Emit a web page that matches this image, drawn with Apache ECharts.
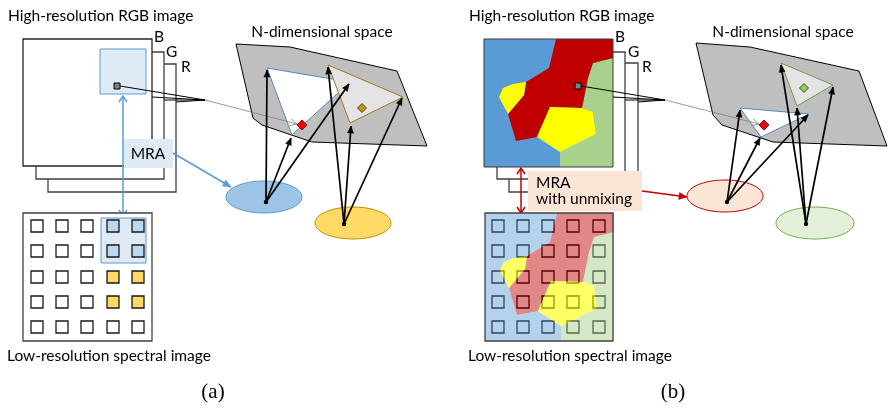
<!DOCTYPE html>
<html>
<head>
<meta charset="utf-8">
<script src="https://cdn.jsdelivr.net/npm/echarts@6/dist/echarts.min.js"></script>
<style>
  html, body { margin: 0; padding: 0; background: #ffffff; }
  #chart { width: 888px; height: 408px; }
</style>
</head>
<body>
<div id="chart"></div>
<script>
// Diagram space: x 0..888, y 0..408 (y grows downward). Every shape below is
// a list of points in that space, mapped to pixels by the hidden value axes.

// ---------- panel (a): MRA ----------
const layerR_A = [[48, 64], [176, 192]];
const layerG_A = [[36, 52], [164, 179]];
const layerB_A = [[23, 39], [152, 166]];
const windowA = [[100, 49], [146, 94]];
const pixelA = [[114, 83], [120, 89]];
const hubA = [205, 100];
const hubSourcesA = [[120, 86], [152, 97], [164, 100], [176, 102]];
const planeA = [[236, 44], [290, 47], [397, 71], [427, 146], [312, 142], [262, 125], [253, 118]];
const triBlueA = [[267, 68], [350, 82], [292, 135]];
const triGoldA = [[328, 65], [403, 97], [350, 123]];
const mixPointA = [302, 125];
const goldPointA = [362, 108];
const ellipseBlueA = [[226, 181], [302, 213]];
const ellipseGoldA = [[315, 207], [391, 239]];
const originBlueA = [266, 202];
const originGoldA = [344, 224];
const targetsBlueA = [[267, 70], [291, 138], [349, 84]];
const targetsGoldA = [[328, 67], [351, 126], [402, 98]];
const mraBoxA = [[124, 139], [173, 168]];
const mraArrowA = [[173, 153], [231, 187]];
const linkArrowA = [[123, 96], [123, 216]];
const lowBoxA = [[23, 213], [152, 341]];
const lowWindowA = [[101, 218], [146, 263]];
const cellXA = [37, 62, 87, 113, 138];
const cellYA = [226, 251, 277, 302, 327];
// b = blue window cells, y = yellow endmember cells, '' = empty
const cellFillA = [
  ['', '', '', 'b', 'b'],
  ['', '', '', 'b', 'b'],
  ['', '', '', 'y', 'y'],
  ['', '', '', 'y', 'y'],
  ['', '', '', '', '']
];

// ---------- panel (b): MRA with unmixing ----------
const layerR_B = [[509, 63], [638, 192]];
const layerG_B = [[497, 52], [625, 179]];
const layerB_B = [[484, 39], [613, 167]];
// land-cover regions of the scene (they tile the image without overlap)
const mapBlue = [[484, 39], [556, 39], [549, 68], [526, 82], [513, 84], [503, 88], [499, 97], [508, 114], [516, 141], [537, 137], [560, 152], [560, 167], [484, 167]];
const mapRed = [[556, 39], [613, 39], [613, 58], [593, 63], [588, 78], [582, 108], [550, 107], [537, 137], [516, 141], [508, 114], [524, 95], [526, 82], [549, 68]];
const mapGreen = [[613, 58], [593, 63], [588, 78], [582, 108], [593, 112], [596, 134], [560, 152], [560, 167], [613, 167]];
const mapYellowBig = [[550, 107], [582, 108], [593, 112], [596, 134], [560, 152], [537, 137]];
const mapYellowSmall = [[499, 97], [503, 88], [513, 84], [526, 82], [524, 95], [508, 114]];
const lowMapShift = [1, 174];
const pixelB = [[575, 83], [581, 89]];
const hubB = [665, 100];
const hubSourcesB = [[581, 86], [613, 97], [625, 100], [638, 102]];
const planeB = [[696, 43], [750, 47], [859, 71], [887, 146], [773, 142], [722, 125], [713, 115]];
const triBlueB = [[740, 108], [809, 114], [761, 137]];
const triGreenB = [[781, 63], [833, 85], [797, 106]];
const mixPointB = [764, 125];
const greenPointB = [804, 88];
const ellipseRedB = [[687, 180], [763, 212]];
const ellipseGreenB = [[776, 207], [854, 239]];
const originRedB = [727, 202];
const originGreenB = [806, 224];
const targetsRedB = [[740, 110], [760, 138], [808, 115]];
const targetsGreenB = [[781, 65], [797, 108], [833, 87]];
const mraBoxB = [[528, 171], [642, 211]];
const mraArrowB = [[642, 191], [687, 197]];
const linkArrowB = [[521, 168], [521, 213]];
const lowBoxB = [[485, 213], [613, 341]];
const cellXB = [498, 523, 548, 573, 599];
const cellYB = [226, 251, 277, 302, 327];
const cellSize = 12;

// ---------- texts ----------
const titleHigh = 'High-resolution RGB image';
const titleLow = 'Low-resolution spectral image';
const titleSpace = 'N-dimensional space';
const bandNames = ['B', 'G', 'R'];
const bandPosA = [[154, 37], [166, 52], [181, 67]];
const bandPosB = [[615, 37], [628, 52], [642, 67]];
const textsA = [
  { t: titleHigh, p: [8, 16], a: 'left' },
  { t: titleSpace, p: [322, 32], a: 'center' },
  { t: 'MRA', p: [148, 154], a: 'center' },
  { t: titleLow, p: [7, 356], a: 'left' }
];
const textsB = [
  { t: titleHigh, p: [469, 16], a: 'left' },
  { t: titleSpace, p: [783, 32], a: 'center' },
  { t: 'MRA', p: [536, 183], a: 'left' },
  { t: 'with unmixing', p: [536, 199], a: 'left' },
  { t: titleLow, p: [468, 356], a: 'left' }
];
const captions = [{ t: '(a)', p: [213, 392] }, { t: '(b)', p: [673, 392] }];

// ---------- styles ----------
const C = {
  edge: '#404040', plane: '#bfbfbf', ink: '#000000',
  blue: '#5b9bd5', blueLight: '#deebf7', blueCell: '#bdd7ee', blueEll: '#9dc3e6',
  gold: '#bf9000', goldFill: '#ffd966', goldTri: '#9c7a1e', goldDot: '#c89400',
  red: '#c00000', redLight: '#fbe5d6', green: '#70ad47', greenTri: '#6b9a4a',
  greenLight: '#e2f0d9', greenMap: '#a9d18e', yellow: '#ffff00', triFill: '#e4e4e4',
  thin: '#808080', triBlue: '#5a86bb'
};
const SANS = 'Lato, "Open Sans", sans-serif';
const FONT = '15.5px ' + SANS;

// ---------- mark list ----------
const marks = [];
function add(kind, pts, style, extra) { marks.push(Object.assign({ kind: kind, pts: pts, style: style || {} }, extra || {})); }
const shift = (pts, d) => pts.map(p => [p[0] + d[0], p[1] + d[1]]);

function layers(R, G, B, front) {
  add('rect', R, { fill: '#fff', stroke: C.edge, lw: 1.3 });
  add('rect', G, { fill: '#fff', stroke: C.edge, lw: 1.3 });
  add('rect', B, front);
}
function hubLines(src, hub) { src.forEach(s => add('line', [s, hub], { stroke: C.ink, lw: 1 })); }
function fan(origin, targets) {
  targets.forEach(t => add('arrow', [origin, t], { stroke: C.ink, lw: 1.7, head: 'fill', hl: 7, hw: 3 }));
  add('dot', [origin], { fill: C.ink, r: 2.2 });
}
function cells(xs, ys, fillOf, stroke) {
  ys.forEach((y, r) => xs.forEach((x, c) => {
    const h = cellSize / 2;
    add('rect', [[x - h, y - h], [x + h, y + h]], { fill: fillOf(r, c), stroke: stroke, lw: 1.3 });
  }));
}
function sceneMap(d, alpha) {
  add('poly', shift(mapBlue, d), { fill: C.blue, opacity: alpha.blue });
  add('poly', shift(mapGreen, d), { fill: C.greenMap, opacity: alpha.green });
  add('poly', shift(mapRed, d), { fill: C.red, opacity: alpha.red });
  add('poly', shift(mapYellowBig, d), { fill: C.yellow, opacity: alpha.yellow });
  add('poly', shift(mapYellowSmall, d), { fill: C.yellow, opacity: alpha.yellow });
}

// panel (a)
layers(layerR_A, layerG_A, layerB_A, { fill: '#fff', stroke: '#262626', lw: 1.3 });
add('rect', windowA, { fill: C.blueLight, stroke: C.blue, lw: 1 });
hubLines(hubSourcesA, hubA);
add('rect', pixelA, { fill: '#808080', stroke: C.ink, lw: 1 });
add('poly', planeA, { fill: C.plane, stroke: C.ink, lw: 1 });
add('poly', triBlueA, { fill: '#fff', stroke: C.triBlue, lw: 1 });
add('poly', triGoldA, { fill: C.triFill, stroke: C.goldTri, lw: 1 });
add('arrow', [hubA, [mixPointA[0] - 5, mixPointA[1] - 1]], { stroke: C.thin, lw: 0.8, head: 'open', hl: 7, hw: 3.5 });
add('diamond', [mixPointA], { fill: '#ff0000', stroke: '#5a0000', r: 5 });
add('diamond', [goldPointA], { fill: C.goldDot, stroke: '#222', r: 4.5 });
add('ellipse', ellipseBlueA, { fill: C.blueEll, stroke: C.blue, lw: 1 });
add('ellipse', ellipseGoldA, { fill: C.goldFill, stroke: C.gold, lw: 1 });
fan(originBlueA, targetsBlueA);
fan(originGoldA, targetsGoldA);
add('arrow', linkArrowA, { stroke: C.blue, lw: 1.5, head: 'open', both: true, hl: 6, hw: 4 });
add('rect', mraBoxA, { fill: C.blueLight, stroke: 'none' });
add('arrow', mraArrowA, { stroke: C.blue, lw: 1.6, head: 'fill', hl: 8, hw: 3.5 });
add('rect', lowBoxA, { fill: '#fff', stroke: C.edge, lw: 1.3 });
add('rect', lowWindowA, { fill: C.blueLight, stroke: C.blue, lw: 1 });
cells(cellXA, cellYA, (r, c) => ({ b: C.blueCell, y: C.goldFill })[cellFillA[r][c]] || '#fff', '#1a1a1a');

// panel (b)
layers(layerR_B, layerG_B, layerB_B, { fill: C.blue, stroke: 'none' });
sceneMap([0, 0], { blue: 1, green: 1, red: 1, yellow: 1 });
add('rect', layerB_B, { fill: 'none', stroke: '#3a3a3a', lw: 1 });
hubLines(hubSourcesB, hubB);
add('rect', pixelB, { fill: '#808080', stroke: C.ink, lw: 1 });
add('poly', planeB, { fill: C.plane, stroke: C.ink, lw: 1 });
add('poly', triGreenB, { fill: C.triFill, stroke: C.greenTri, lw: 1 });
add('poly', triBlueB, { fill: '#fff', stroke: C.triBlue, lw: 1 });
add('arrow', [hubB, [mixPointB[0] - 5, mixPointB[1] - 1]], { stroke: C.thin, lw: 0.8, head: 'open', hl: 7, hw: 3.5 });
add('diamond', [mixPointB], { fill: '#ff0000', stroke: '#5a0000', r: 5 });
add('diamond', [greenPointB], { fill: '#92d050', stroke: '#222', r: 4.5 });
add('ellipse', ellipseRedB, { fill: C.redLight, stroke: C.red, lw: 1 });
add('ellipse', ellipseGreenB, { fill: C.greenLight, stroke: C.green, lw: 1 });
fan(originRedB, targetsRedB);
fan(originGreenB, targetsGreenB);
add('arrow', linkArrowB, { stroke: C.red, lw: 1.5, head: 'open', both: true, hl: 6, hw: 4 });
add('rect', mraBoxB, { fill: C.redLight, stroke: 'none' });
add('arrow', mraArrowB, { stroke: C.red, lw: 1.6, head: 'fill', hl: 8, hw: 3.5 });
add('rect', lowBoxB, { fill: '#fff', stroke: 'none' });
cells(cellXB, cellYB, () => 'none', '#000');
sceneMap(lowMapShift, { blue: 0.45, green: 0.5, red: 0.47, yellow: 0.6 });
add('rect', lowBoxB, { fill: 'none', stroke: C.edge, lw: 1.3 });

// texts
bandNames.forEach((n, i) => {
  add('text', [bandPosA[i]], { font: FONT, align: 'left' }, { text: n });
  add('text', [bandPosB[i]], { font: FONT, align: 'left' }, { text: n });
});
textsA.concat(textsB).forEach(o => add('text', [o.p], { font: FONT, align: o.a }, { text: o.t }));
captions.forEach(o => add('text', [o.p], { font: '21px "Liberation Serif", serif', align: 'center' }, { text: o.t }));

// ---------- drawing ----------
function style(s) {
  return {
    fill: s.fill === undefined ? 'none' : s.fill,
    stroke: s.stroke === undefined ? 'none' : s.stroke,
    lineWidth: s.lw || 1,
    opacity: s.opacity === undefined ? 1 : s.opacity
  };
}
function head(tip, from, s) {
  const dx = tip[0] - from[0], dy = tip[1] - from[1];
  const len = Math.hypot(dx, dy) || 1;
  const ux = dx / len, uy = dy / len, nx = -uy, ny = ux;
  const b = [tip[0] - ux * s.hl, tip[1] - uy * s.hl];
  const l = [b[0] + nx * s.hw, b[1] + ny * s.hw];
  const r = [b[0] - nx * s.hw, b[1] - ny * s.hw];
  if (s.head === 'fill') {
    return { type: 'polygon', shape: { points: [tip, l, r] }, style: { fill: s.stroke, stroke: s.stroke, lineWidth: 0.5 } };
  }
  return { type: 'polyline', shape: { points: [l, tip, r] }, style: { fill: 'none', stroke: s.stroke, lineWidth: s.lw } };
}
function draw(m, api) {
  const P = m.pts.map(p => api.coord(p));
  const s = m.style;
  switch (m.kind) {
    case 'rect':
      return { type: 'rect', shape: { x: P[0][0], y: P[0][1], width: P[1][0] - P[0][0], height: P[1][1] - P[0][1] }, style: style(s) };
    case 'poly':
      return { type: 'polygon', shape: { points: P }, style: style(s) };
    case 'line':
      return { type: 'polyline', shape: { points: P }, style: style(s) };
    case 'ellipse': {
      const cx = (P[0][0] + P[1][0]) / 2, cy = (P[0][1] + P[1][1]) / 2;
      const rx = Math.abs(P[1][0] - P[0][0]) / 2, ry = Math.abs(P[1][1] - P[0][1]) / 2;
      const pts = [];
      for (let k = 0; k < 72; k++) { const a = k / 72 * Math.PI * 2; pts.push([cx + rx * Math.cos(a), cy + ry * Math.sin(a)]); }
      return { type: 'polygon', shape: { points: pts }, style: style(s) };
    }
    case 'diamond': {
      const c = P[0], r = s.r;
      return { type: 'polygon', shape: { points: [[c[0], c[1] - r], [c[0] + r, c[1]], [c[0], c[1] + r], [c[0] - r, c[1]]] }, style: { fill: s.fill, stroke: s.stroke, lineWidth: 0.8 } };
    }
    case 'dot':
      return { type: 'circle', shape: { cx: P[0][0], cy: P[0][1], r: s.r }, style: { fill: s.fill } };
    case 'arrow': {
      const a = P[0], b = P[1];
      const kids = [{ type: 'line', shape: { x1: a[0], y1: a[1], x2: b[0], y2: b[1] }, style: { stroke: s.stroke, lineWidth: s.lw } }];
      kids.push(head(b, a, s));
      if (s.both) kids.push(head(a, b, s));
      return { type: 'group', children: kids };
    }
    case 'text':
      return { type: 'text', x: P[0][0], y: P[0][1], style: { text: m.text, font: s.font, fill: '#000', align: s.align, verticalAlign: 'middle' } };
  }
  return null;
}
// stacking order follows the order marks were added
function setOrder(el, z2) {
  if (!el) return el;
  el.z2 = z2;
  if (el.children) el.children.forEach(ch => setOrder(ch, z2));
  return el;
}

const series = marks.map((m, i) => ({
  type: 'custom',
  coordinateSystem: 'cartesian2d',
  silent: true,
  animation: false,
  clip: false,
  z: 2,
  data: m.pts,
  renderItem: (params, api) => {
    if (params.dataIndex !== 0) return null;
    return setOrder(draw(m, api), i);
  }
}));

const chart = echarts.init(document.getElementById('chart'), null, { renderer: 'canvas' });
chart.setOption({
  backgroundColor: '#ffffff',
  animation: false,
  grid: { left: 0, right: 0, top: 0, bottom: 0, containLabel: false },
  xAxis: { type: 'value', min: 0, max: 888, show: false },
  yAxis: { type: 'value', min: 0, max: 408, inverse: true, show: false },
  series: series
});
</script>
</body>
</html>
